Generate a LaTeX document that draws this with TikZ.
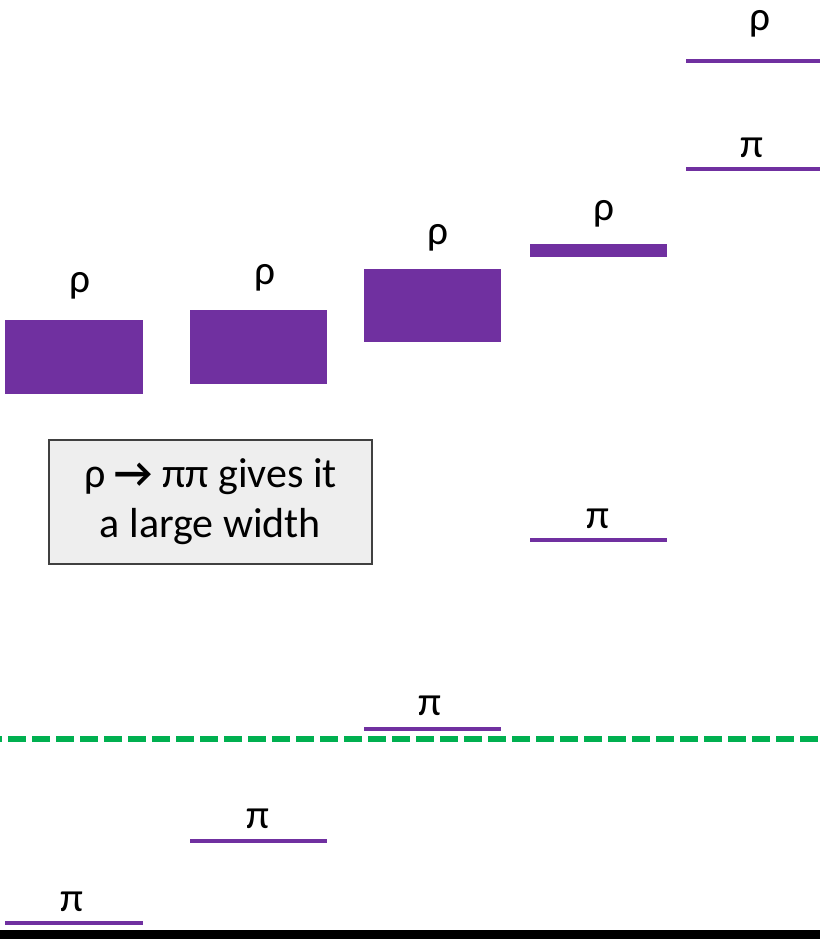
\documentclass[tikz,border=0pt]{standalone}
\usepackage{fontspec}
\setmainfont{Carlito}
\definecolor{levelpurple}{HTML}{7030A0}
\definecolor{cutgreen}{HTML}{00B050}
\definecolor{notegray}{HTML}{EEEEEE}
\begin{document}
\begin{tikzpicture}[x=0.75pt,y=-0.75pt,
  level/.style={line width=3pt, levelpurple},
  wide/.style={fill=levelpurple},
  lbl/.style={anchor=base, inner sep=0pt, font=\fontsize{31}{36}\selectfont}]
  \useasboundingbox (0,0) rectangle (820,939);
  % pion levels
  \coordinate (P1a) at (5,923);   \coordinate (P1b) at (143,923);
  \coordinate (P2a) at (190,841); \coordinate (P2b) at (327,841);
  \coordinate (P3a) at (364,729); \coordinate (P3b) at (501,729);
  \coordinate (P4a) at (530,540); \coordinate (P4b) at (667,540);
  \coordinate (P5a) at (686,169); \coordinate (P5b) at (820,169);
  \draw[level] (P1a) -- (P1b);
  \draw[level] (P2a) -- (P2b);
  \draw[level] (P3a) -- (P3b);
  \draw[level] (P4a) -- (P4b);
  \draw[level] (P5a) -- (P5b);
  % rho levels (width shrinks)
  \fill[wide] (5,320) rectangle (143,394);
  \fill[wide] (190,310) rectangle (327,384);
  \fill[wide] (364,269) rectangle (501,342);
  \fill[wide] (530,244) rectangle (667,257);
  \coordinate (R5a) at (686,61); \coordinate (R5b) at (820,61);
  \draw[level] (R5a) -- (R5b);
  % threshold
  \coordinate (Ta) at (0,739); \coordinate (Tb) at (820,739);
  \draw[cutgreen, line width=4.5pt, dash pattern=on 13.5pt off 4.5pt, dash phase=12pt] (Ta) -- (Tb);
  \fill[black] (0,930) rectangle (820,939);
  % labels
  \node[lbl] (pi1) at (72,911) {π};
  \node[lbl] (pi2) at (258,828) {π};
  \node[lbl] (pi3) at (430,715) {π};
  \node[lbl] (pi4) at (598,528) {π};
  \node[lbl] (pi5) at (752,157) {π};
  \node[lbl] (rho1) at (80,292) {ρ};
  \node[lbl] (rho2) at (265,284) {ρ};
  \node[lbl] (rho3) at (438,244) {ρ};
  \node[lbl] (rho4) at (604,220) {ρ};
  \node[lbl] (rho5) at (760,30) {ρ};
  % note
  \node[draw=black!75, line width=1.2pt, fill=notegray, minimum width=242pt, minimum height=93pt,
        align=center, font=\fontsize{31.5}{37.5}\selectfont] (note) at (210.5,502)
        {ρ \textbf{→} ππ gives it\\a large width};
\end{tikzpicture}
\end{document}
